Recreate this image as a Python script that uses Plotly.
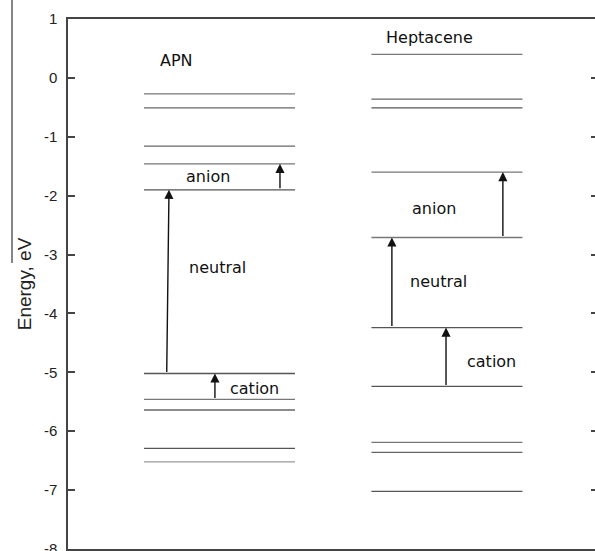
import plotly.graph_objects as go

# ---- data ----
molecules = ["APN", "Heptacene"]
apn_levels = [-0.27, -0.51, -1.16, -1.46, -1.90, -5.02, -5.46, -5.64, -6.29, -6.52]
hep_levels = [0.40, -0.36, -0.51, -1.60, -2.71, -4.24, -5.24, -6.19, -6.36, -7.02]
state_labels = ["anion", "neutral", "cation"]
# transitions (from, to) for each molecule: anion, neutral, cation
apn_transitions = [(-1.90, -1.46), (-5.02, -1.90), (-5.46, -5.02)]
hep_transitions = [(-2.71, -1.60), (-4.24, -2.71), (-5.24, -4.24)]
# label energies
apn_label_y = [-1.68, -3.22, -5.27]
hep_label_y = [-2.22, -3.46, -4.81]
title_y = [0.30, 0.68]
yticks = [1, 0, -1, -2, -3, -4, -5, -6, -7, -8]

# ---- layout/style positions (column coords) ----
centers = [1.0, 2.0]
half_w = 0.332
apn_arrow_dx = [(0.266, 0.266), (-0.232, -0.222), (-0.02, -0.02)]
hep_arrow_dx = [(0.246, 0.246), (-0.242, -0.242), (-0.004, -0.004)]
apn_label_dx = [-0.05, -0.007, 0.156]
hep_label_dx = [-0.057, -0.035, 0.198]
title_dx = [-0.191, -0.075]
apn_colors = ["#777", "#666", "#666", "#777", "#555", "#555", "#777", "#666", "#555", "#999"]
hep_colors = ["#777", "#666", "#555", "#777", "#777", "#555", "#555", "#777", "#666", "#555"]

fig = go.Figure()

for c, levels, cols in [(centers[0], apn_levels, apn_colors), (centers[1], hep_levels, hep_colors)]:
    for e, col in zip(levels, cols):
        fig.add_trace(go.Scatter(x=[c - half_w, c + half_w], y=[e, e], mode="lines",
                                 line=dict(color=col, width=1.3), showlegend=False, hoverinfo="skip"))

# dummy trace for right tick axis
fig.add_trace(go.Scatter(x=[centers[0]], y=[0], yaxis="y2", mode="markers",
                         marker=dict(opacity=0), showlegend=False, hoverinfo="skip"))

annotations = []
font_lbl = dict(family="DejaVu Sans", size=16, color="#111")
for c, trans, dxs in [(centers[0], apn_transitions, apn_arrow_dx), (centers[1], hep_transitions, hep_arrow_dx)]:
    for (e0, e1), (dx0, dx1) in zip(trans, dxs):
        annotations.append(dict(x=c + dx1, y=e1, ax=c + dx0, ay=e0, xref="x", yref="y",
                                axref="x", ayref="y", showarrow=True, arrowhead=2,
                                arrowsize=1.3, arrowwidth=1.4, arrowcolor="#111", standoff=0, text=""))
for c, ly, ldx in [(centers[0], apn_label_y, apn_label_dx), (centers[1], hep_label_y, hep_label_dx)]:
    for t, y, dx in zip(state_labels, ly, ldx):
        annotations.append(dict(x=c + dx, y=y, text=t, showarrow=False, font=font_lbl,
                                xref="x", yref="y"))
for c, m, y, dx in zip(centers, molecules, title_y, title_dx):
    annotations.append(dict(x=c + dx, y=y, text=m, showarrow=False, font=font_lbl, xref="x", yref="y"))

fig.update_layout(
    width=595, height=551,
    margin=dict(l=68, r=0, t=19, b=2, autoexpand=False),
    plot_bgcolor="white", paper_bgcolor="white",
    annotations=annotations,
    xaxis=dict(range=[0.334, 2.651], showgrid=False, zeroline=False, showticklabels=False,
               ticks="", showline=True, mirror=True, linecolor="#444", linewidth=1.5,
               automargin=False),
    yaxis=dict(range=[-8, 1], tickvals=yticks, ticktext=[str(v) for v in yticks],
               showgrid=False, zeroline=False, ticks="inside", ticklen=7, tickwidth=1.5,
               tickcolor="#444", showline=True, linecolor="#444", linewidth=1.5,
               tickfont=dict(family="Liberation Sans", size=15, color="#222"),
               ticklabelstandoff=6, ticklabeloverflow="allow", automargin=False,
               title=dict(text="Energy, eV", font=dict(family="Liberation Sans", size=19, color="#222"),
                          standoff=7)),
    yaxis2=dict(range=[-8, 1], overlaying="y", side="right", tickvals=yticks, showticklabels=False,
                ticks="inside", ticklen=4, tickwidth=1.5, tickcolor="#444", showgrid=False,
                zeroline=False, showline=False, automargin=False),
    shapes=[dict(type="line", xref="paper", yref="paper", x0=(12 - 68) / 527, x1=(12 - 68) / 527,
                 y0=549 / 530, y1=(549 - 263) / 530,
                 line=dict(color="#444", width=1.3))],
)

fig.write_html("out.html")
